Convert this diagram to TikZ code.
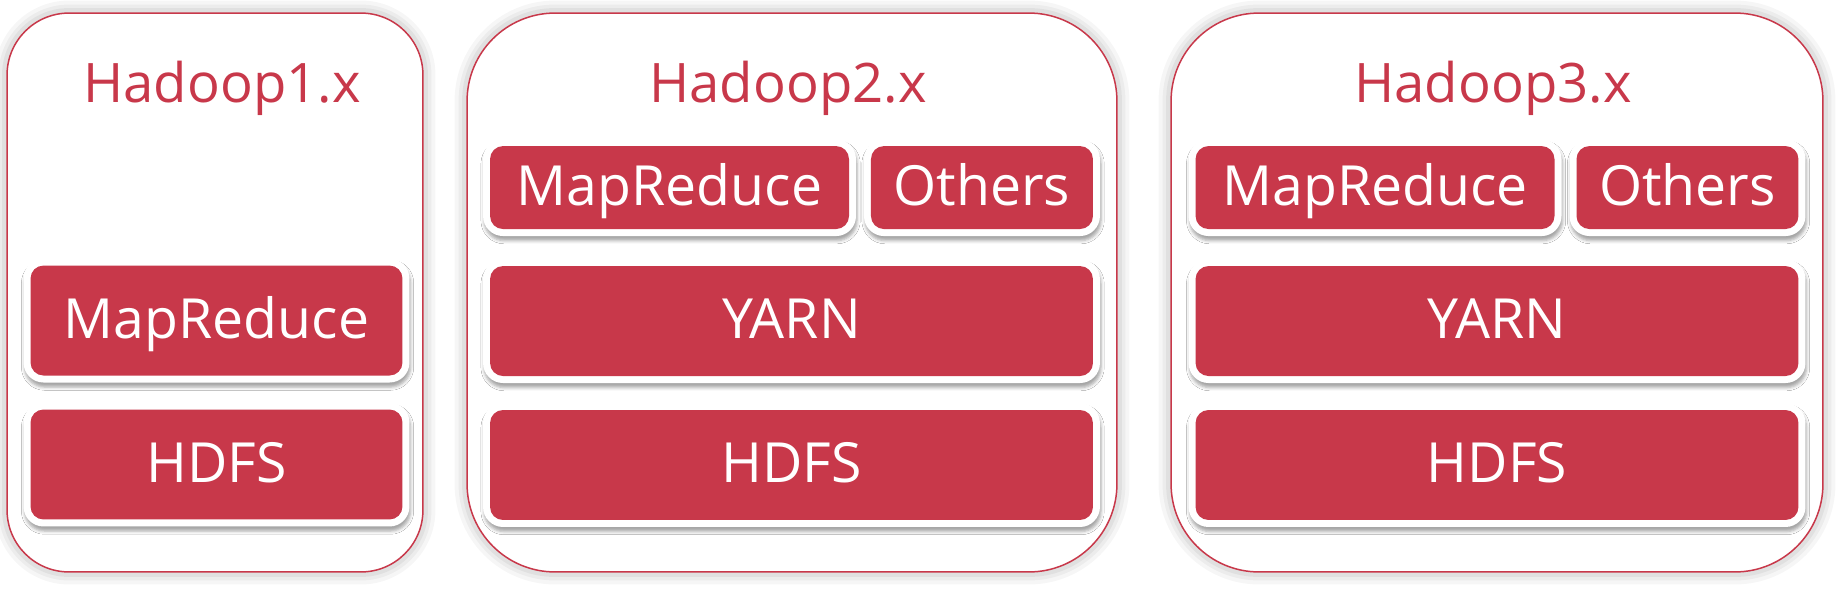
\documentclass[tikz,border=0pt]{standalone}
\usepackage{fontspec}
\setmainfont{Open Sans}
\usepackage{tikz}
\usetikzlibrary{positioning,shadows.blur}
\definecolor{boxred}{RGB}{200,56,74}
\tikzset{
  frame/.style={rectangle, fill=white, draw=boxred, line width=0.03cm, minimum height=11.18cm,
    preaction={draw=black, opacity=0.035, line width=0.5cm},
    preaction={draw=black, opacity=0.04, line width=0.34cm},
    preaction={draw=black, opacity=0.05, line width=0.2cm}},
  layer/.style={rectangle, fill=white, rounded corners=0.4cm, inner sep=0pt, outer sep=0pt,
    text=white, font=\fontsize{31.5pt}{36pt}\selectfont, text height=0.8cm, text depth=0.1cm,
    blur shadow={shadow xshift=0.6pt, shadow yshift=-2.6pt, shadow blur radius=1.8pt, shadow opacity=35},
    path picture={\fill[boxred, rounded corners=0.26cm]
      ([shift={(0.14cm,0.14cm)}]path picture bounding box.south west) rectangle
      ([shift={(-0.14cm,-0.14cm)}]path picture bounding box.north east);}},
  wide/.style={minimum width=12.34cm, minimum height=2.48cm},
  small/.style={minimum height=1.94cm},
  title/.style={text=boxred, font=\fontsize{31pt}{36pt}\selectfont, inner sep=0pt, anchor=base}
}
\begin{document}
\begin{tikzpicture}[x=0.02cm, y=-0.02cm, node distance=0.4cm]
  \useasboundingbox (0,0) rectangle (1842,589);
  % outer frames
  \node[frame, minimum width=8.32cm, rounded corners=1.24cm] (f1) at (215,292.5) {};
  \node[frame, minimum width=13cm, rounded corners=1.76cm] (f2) at (792,292.5) {};
  \node[frame, minimum width=13.04cm, rounded corners=1.76cm] (f3) at (1497,292.5) {};
  % titles
  \node[title] (t1) at (222,102) {Hadoop1.x};
  \node[title] (t2) at (788,102) {Hadoop2.x};
  \node[title] (t3) at (1493,102) {Hadoop3.x};
  % Hadoop1.x
  \node[layer, minimum width=7.72cm, minimum height=2.48cm] (hdfs1) at (216.5,464.5) {HDFS};
  \node[layer, minimum width=7.72cm, minimum height=2.48cm, above=of hdfs1] (mr1) {MapReduce};
  % Hadoop2.x
  \node[layer, wide] (hdfs2) at (791.5,465) {HDFS};
  \node[layer, wide, above=of hdfs2] (yarn2) {YARN};
  \node[layer, small, minimum width=7.46cm, above right=0.46cm and 0cm of yarn2.north west] (mr2) {MapReduce};
  \node[layer, small, minimum width=4.72cm, right=0.16cm of mr2] (oth2) {Others};
  % Hadoop3.x
  \node[layer, wide] (hdfs3) at (1497,465) {HDFS};
  \node[layer, wide, above=of hdfs3] (yarn3) {YARN};
  \node[layer, small, minimum width=7.46cm, above right=0.46cm and 0cm of yarn3.north west] (mr3) {MapReduce};
  \node[layer, small, minimum width=4.72cm, right=0.16cm of mr3] (oth3) {Others};
\end{tikzpicture}
\end{document}
